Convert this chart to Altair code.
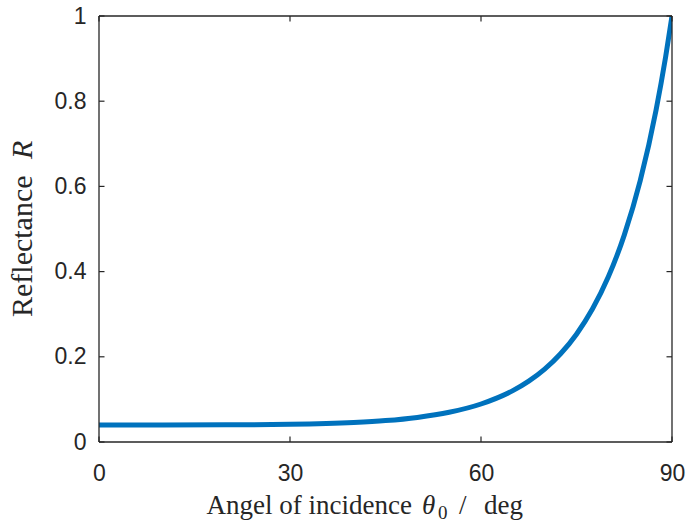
import altair as alt
import pandas as pd

# Values
angle_deg = [0, 10, 20, 30, 40, 45, 50, 55, 60, 65, 67.5, 70, 72.5, 75, 77.5, 80, 82.5, 85, 87.5, 89, 90]
reflectance = [0.040, 0.040, 0.0403, 0.0415, 0.0457, 0.0502, 0.0577, 0.0697, 0.0892, 0.1205,
               0.1428, 0.1710, 0.2071, 0.2531, 0.3120, 0.3877, 0.4856, 0.6128, 0.7795, 0.9042, 1.0]

x_ticks = [0, 30, 60, 90]
y_ticks = [0, 0.2, 0.4, 0.6, 0.8, 1.0]
x_range = [0, 90]
y_range = [0, 1]

W, H = 573, 426
AX = "#262626"
BLUE = "#0072BD"
LABEL_FONT = "Liberation Sans"
SERIF = "Liberation Serif"

df = pd.DataFrame({"angle": angle_deg, "R": reflectance})
xt = pd.DataFrame({"t": x_ticks})
yt = pd.DataFrame({"t": y_ticks})
one = pd.DataFrame({"a": [0]})
xedges = pd.DataFrame({"x": x_range})
yedges = pd.DataFrame({"y": y_range})

xscale = alt.Scale(domain=x_range, nice=False, zero=False)
yscale = alt.Scale(domain=y_range, nice=False)

line = alt.Chart(df).mark_line(color=BLUE, strokeWidth=5, interpolate="monotone", clip=True).encode(
    x=alt.X("angle:Q", scale=xscale,
            axis=alt.Axis(values=x_ticks, title=None, labelFont=LABEL_FONT, labelFontSize=23,
                          labelColor=AX, labelPadding=20, labelFlush=False, format="d")),
    y=alt.Y("R:Q", scale=yscale,
            axis=alt.Axis(values=y_ticks, title=None, labelFont=LABEL_FONT, labelFontSize=23,
                          labelColor=AX, labelPadding=13, labelFlush=False, format=".1~f")),
)

# plot box: vertical edges at x = 0 and 90, horizontal edges at y = 0 and 1
vbox = alt.Chart(xedges).mark_rule(color=AX, strokeWidth=1.3).encode(
    x=alt.X("x:Q", scale=xscale), y=alt.value(0), y2=alt.value(H))
hbox = alt.Chart(yedges).mark_rule(color=AX, strokeWidth=1.3).encode(
    y=alt.Y("y:Q", scale=yscale), x=alt.value(0), x2=alt.value(W))

TL = 5.5
tick_bottom = alt.Chart(xt).mark_rule(color=AX, strokeWidth=1.2).encode(
    x=alt.X("t:Q", scale=xscale), y=alt.value(H), y2=alt.value(H - TL))
tick_top = alt.Chart(xt).mark_rule(color=AX, strokeWidth=1.2).encode(
    x=alt.X("t:Q", scale=xscale), y=alt.value(0), y2=alt.value(TL))
tick_left = alt.Chart(yt).mark_rule(color=AX, strokeWidth=1.2).encode(
    y=alt.Y("t:Q", scale=yscale), x=alt.value(0), x2=alt.value(TL))
tick_right = alt.Chart(yt).mark_rule(color=AX, strokeWidth=1.2).encode(
    y=alt.Y("t:Q", scale=yscale), x=alt.value(W), x2=alt.value(W - TL))

def txt(text, x, y, size=27, style="normal", angle=0, align="left"):
    return alt.Chart(one).mark_text(
        text=text, font=SERIF, fontSize=size, fontStyle=style, color=AX,
        align=align, baseline="alphabetic", angle=angle,
    ).encode(x=alt.value(x), y=alt.value(y))

xt1 = txt("Angel of incidence", 313, 498, align="right")
xt2 = txt("θ", 323, 498, style="italic")
xt3 = txt("0", 339, 503, size=19)
xt4 = txt("/", 360, 498)
xt5 = txt("deg", 385, 498)

yt1 = txt("Reflectance", -67, 301, size=30, angle=270)
yt2 = txt("R", -67, 143, size=30, style="italic", angle=270)

chart = alt.layer(
    line, vbox, hbox, tick_bottom, tick_top, tick_left, tick_right,
    xt1, xt2, xt3, xt4, xt5, yt1, yt2,
).properties(
    width=W, height=H,
    background="white",
    autosize=alt.AutoSizeParams(type="none"),
    padding={"left": 99, "top": 16, "right": 17, "bottom": 84},
).configure_view(
    strokeWidth=0, stroke="transparent"
).configure_axis(
    domain=False, grid=False, ticks=False
)

chart.save("out.html", embed_options={"renderer": "svg", "actions": False})
